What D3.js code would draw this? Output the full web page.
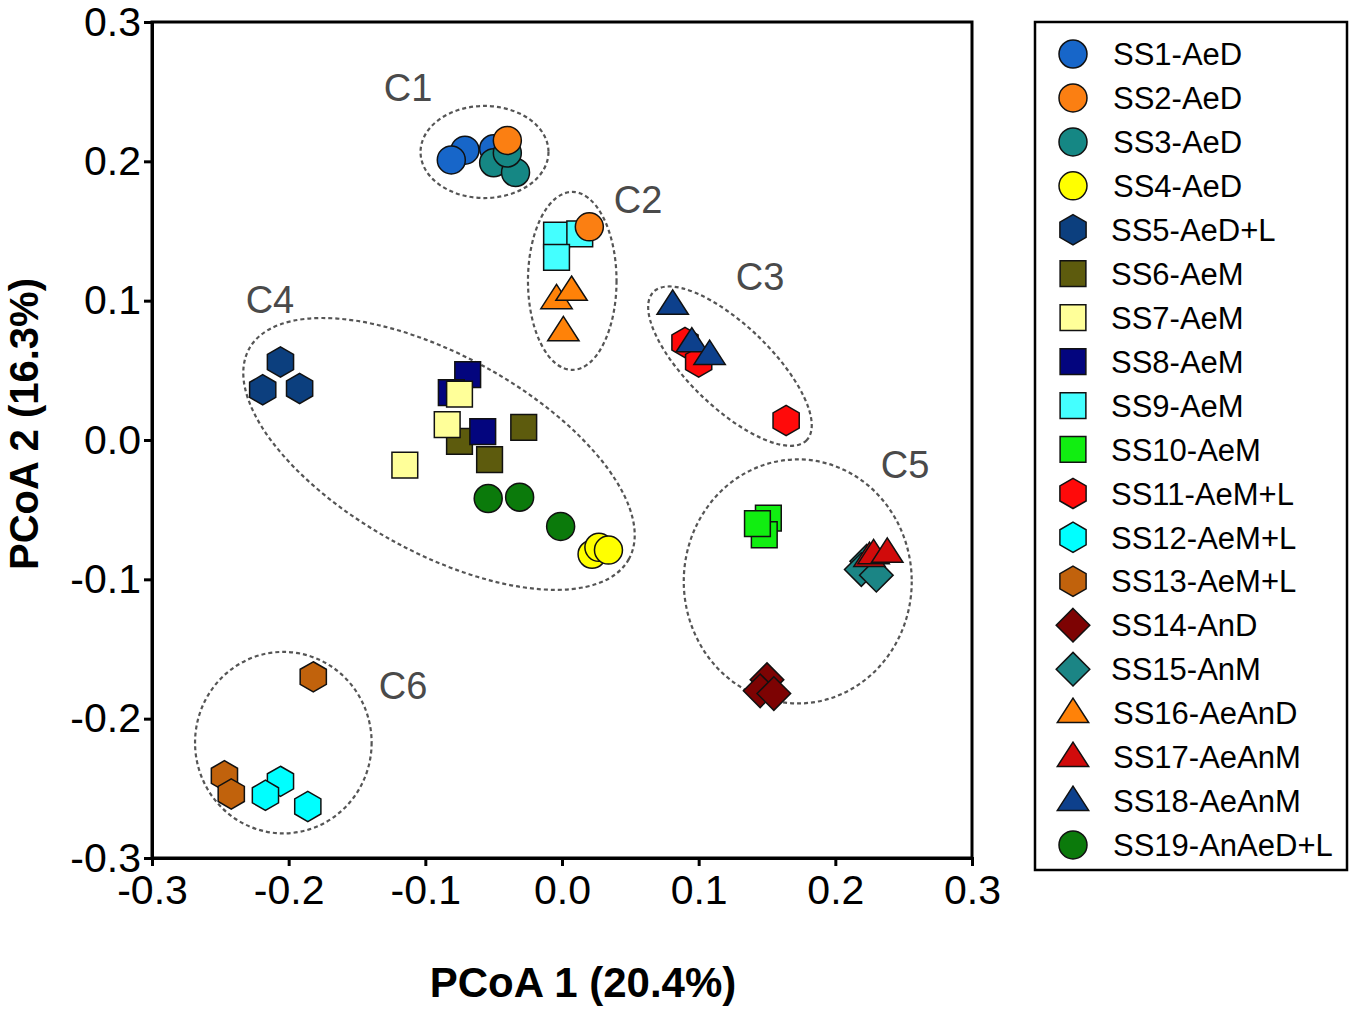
<!DOCTYPE html>
<html>
<head>
<meta charset="utf-8">
<script src="https://cdn.jsdelivr.net/npm/d3@7"></script>
<style>
  body { margin: 0; background: #fff; }
  text { font-family: "Liberation Sans", Arial, sans-serif; }
</style>
</head>
<body>
<svg id="chart" width="1354" height="1009"></svg>
<script>
// series: name, shape, fill
const seriesNames = ["SS1-AeD", "SS2-AeD", "SS3-AeD", "SS4-AeD", "SS5-AeD+L", "SS6-AeM", "SS7-AeM",
  "SS8-AeM", "SS9-AeM", "SS10-AeM", "SS11-AeM+L", "SS12-AeM+L", "SS13-AeM+L", "SS14-AnD",
  "SS15-AnM", "SS16-AeAnD", "SS17-AeAnM", "SS18-AeAnM", "SS19-AnAeD+L"];
const seriesShapes = ["circle", "circle", "circle", "circle", "hexagon", "square", "square",
  "square", "square", "square", "hexagon", "hexagon", "hexagon", "diamond",
  "diamond", "triangle", "triangle", "triangle", "circle"];
const seriesColors = ["#1766c9", "#fb7f12", "#158784", "#ffff00", "#0c3f7e", "#5d5b0d", "#ffff99",
  "#03057e", "#44ffff", "#11ee11", "#ff0a0a", "#00ffff", "#c1620c", "#7d0303",
  "#1b8585", "#ff8208", "#d10b0b", "#0d408c", "#0b7a0b"];

// PCoA coordinates per series [pc1, pc2]
const seriesPoints = [
  [[-0.050, 0.209], [-0.071, 0.208], [-0.081, 0.201]],
  [[-0.040, 0.215], [0.020, 0.153]],
  [[-0.050, 0.199], [-0.034, 0.192], [-0.040, 0.206]],
  [[0.022, -0.082], [0.027, -0.077], [0.034, -0.079]],
  [[-0.206, 0.056], [-0.219, 0.036], [-0.192, 0.037]],
  [[-0.075, -0.001], [-0.053, -0.014], [-0.028, 0.009]],
  [[-0.115, -0.018], [-0.084, 0.011], [-0.075, 0.033]],
  [[-0.069, 0.047], [-0.081, 0.034], [-0.058, 0.006]],
  [[-0.004, 0.147], [0.013, 0.148], [-0.004, 0.131]],
  [[0.151, -0.056], [0.148, -0.068], [0.143, -0.060]],
  [[0.090, 0.070], [0.100, 0.056], [0.164, 0.014]],
  [[-0.206, -0.245], [-0.217, -0.255], [-0.186, -0.263]],
  [[-0.182, -0.170], [-0.247, -0.241], [-0.242, -0.254]],
  [[0.150, -0.172], [0.145, -0.180], [0.155, -0.182]],
  [[0.223, -0.087], [0.219, -0.093], [0.230, -0.097]],
  [[-0.004, 0.101], [0.007, 0.107], [0.001, 0.078]],
  [[0.225, -0.084], [0.228, -0.082], [0.238, -0.081]],
  [[0.081, 0.097], [0.095, 0.070], [0.108, 0.061]],
  [[-0.054, -0.042], [-0.031, -0.041], [-0.001, -0.062]]
];
// series drawn last so that they sit on top where they overlap
const drawOrder = [0, 2, 3, 4, 5, 7, 6, 8, 1, 9, 10, 11, 12, 13, 14, 15, 16, 17, 18];

// cluster ellipses: label, centre [pc1, pc2], radii (PC1 units), rotation (deg)
const clusterNames = ["C1", "C2", "C3", "C4", "C5", "C6"];
const clusterCentres = [[-0.0567, 0.2067], [0.0075, 0.1142], [0.1229, 0.053], [-0.090, -0.010], [0.1725, -0.1015], [-0.2039, -0.2172]];
const clusterRadii = [[0.0468, 0.0337], [0.0324, 0.0651], [0.078, 0.030], [0.1588, 0.072], [0.0834, 0.0893], [0.0646, 0.0664]];
const clusterAngles = [0, 0, 44, 29, 0, 0];
const clusterLabelPos = [[-0.1127, 0.2526], [0.0556, 0.1722], [0.1449, 0.1169], [-0.2137, 0.1004], [0.251, -0.018], [-0.1163, -0.176]];

const ticks = [-0.3, -0.2, -0.1, 0.0, 0.1, 0.2, 0.3];
const xTitle = "PCoA 1 (20.4%)";
const yTitle = "PCoA 2 (16.3%)";

const svg = d3.select("#chart");
const x = d3.scaleLinear().domain([-0.3, 0.3]).range([152, 972]);
const y = d3.scaleLinear().domain([-0.3, 0.3]).range([858, 22]);
const unitPx = x(1) - x(0);

// marker path in pixels, centred at 0,0
function markerPath(shape, s) {
  const p = d3.path();
  if (shape === "circle") {
    p.arc(0, 0, s * 0.5, 0, 2 * Math.PI);
  } else if (shape === "square") {
    const h = s * 0.46;
    p.rect(-h, -h, 2 * h, 2 * h);
  } else if (shape === "diamond") {
    const h = s * 0.6;
    p.moveTo(0, -h); p.lineTo(h, 0); p.lineTo(0, h); p.lineTo(-h, 0); p.closePath();
  } else if (shape === "triangle") {
    const h = s * 0.56;
    p.moveTo(0, -h * 0.95); p.lineTo(h, h * 0.6); p.lineTo(-h, h * 0.6); p.closePath();
  } else {
    const r = s * 0.54;
    d3.range(6).forEach(i => {
      const a = Math.PI / 3 * i - Math.PI / 2;
      i === 0 ? p.moveTo(r * Math.cos(a), r * Math.sin(a)) : p.lineTo(r * Math.cos(a), r * Math.sin(a));
    });
    p.closePath();
  }
  return p.toString();
}

// ellipses
const ell = svg.append("g");
clusterNames.forEach((name, i) => {
  ell.append("ellipse")
    .attr("transform", `translate(${x(clusterCentres[i][0])},${y(clusterCentres[i][1])}) rotate(${clusterAngles[i]})`)
    .attr("rx", clusterRadii[i][0] * unitPx)
    .attr("ry", clusterRadii[i][1] * unitPx)
    .style("fill", "none")
    .style("stroke", "#555")
    .style("stroke-width", 2.2)
    .style("stroke-dasharray", "4,3");
  ell.append("text")
    .attr("x", x(clusterLabelPos[i][0]))
    .attr("y", y(clusterLabelPos[i][1]))
    .attr("dy", "0.35em")
    .attr("text-anchor", "middle")
    .style("font-size", "38px")
    .style("fill", "#4a4a4a")
    .text(name);
});

// points
const pts = svg.append("g");
drawOrder.forEach(i => {
  pts.selectAll(null)
    .data(seriesPoints[i])
    .join("path")
    .attr("transform", d => `translate(${x(d[0])},${y(d[1])})`)
    .attr("d", markerPath(seriesShapes[i], 28))
    .style("fill", seriesColors[i])
    .style("stroke", "#111")
    .style("stroke-width", 1.5);
});

// frame
svg.append("rect")
  .attr("x", x(-0.3)).attr("y", y(0.3))
  .attr("width", x(0.3) - x(-0.3)).attr("height", y(-0.3) - y(0.3))
  .style("fill", "none").style("stroke", "#000").style("stroke-width", 3);

const xAxis = svg.append("g")
  .attr("transform", `translate(0,${y(-0.3)})`)
  .call(d3.axisBottom(x).tickValues(ticks).tickFormat(d3.format(".1f")).tickSizeOuter(0).tickSize(8).tickPadding(9));
const yAxis = svg.append("g")
  .attr("transform", `translate(${x(-0.3)},0)`)
  .call(d3.axisLeft(y).tickValues(ticks).tickFormat(d3.format(".1f")).tickSizeOuter(0).tickSize(8).tickPadding(3));
[xAxis, yAxis].forEach(g => {
  g.select(".domain").style("stroke-width", 3);
  g.selectAll(".tick line").style("stroke-width", 3);
  g.selectAll(".tick text").style("font-size", "41px").style("font-family", "Liberation Sans, Arial, sans-serif").style("fill", "#000");
  g.selectAll(".tick text").text(d => d3.format(".1f")(d).replace("−", "-"));
});

svg.append("text")
  .attr("x", 583).attr("y", 997)
  .attr("text-anchor", "middle")
  .style("font-size", "42px").style("font-weight", "bold")
  .text(xTitle);
svg.append("text")
  .attr("transform", `translate(38,424) rotate(-90)`)
  .attr("text-anchor", "middle")
  .style("font-size", "40px").style("font-weight", "bold")
  .text(yTitle);

// legend
const legend = svg.append("g");
legend.append("rect")
  .attr("x", 1035).attr("y", 22).attr("width", 312).attr("height", 848)
  .style("fill", "#fff").style("stroke", "#000").style("stroke-width", 2.5);
const item = legend.selectAll(".item")
  .data(seriesNames)
  .join("g")
  .attr("transform", (d, i) => `translate(1073,${54 + i * 43.94})`);
item.append("path")
  .attr("d", (d, i) => markerPath(seriesShapes[i], 28))
  .style("fill", (d, i) => seriesColors[i])
  .style("stroke", "#111")
  .style("stroke-width", 1.5);
item.append("text")
  .attr("x", (d, i) => seriesShapes[i] === "circle" || seriesShapes[i] === "triangle" ? 40 : 38)
  .attr("dy", "0.36em")
  .style("font-size", "31px")
  .text(d => d);
</script>
</body>
</html>
